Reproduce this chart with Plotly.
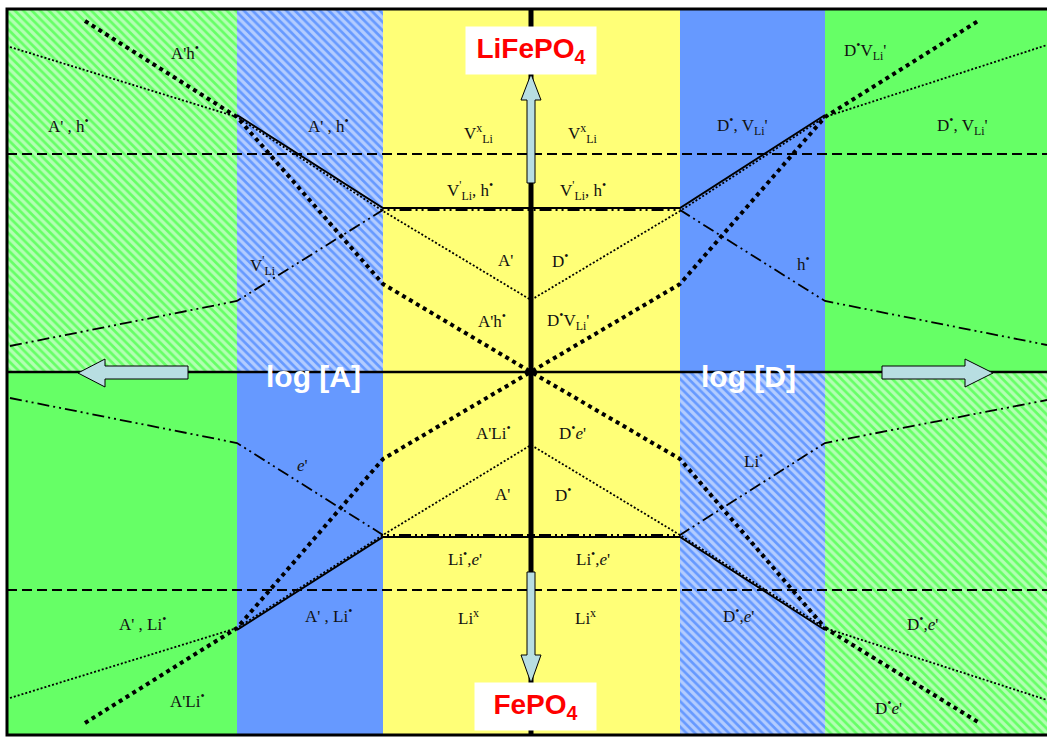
import plotly.graph_objects as go

# ---- canvas / frame ----
W, H = 1047, 737
FRAME_L, FRAME_T, FRAME_B = 7, 9, 735
AXIS_Y = 372          # horizontal log axis
AXIS_X = 531          # vertical centre line (stoichiometric composition)

# column boundaries (log[A] domain | transition | intrinsic | transition | log[D] domain)
col_edges = [7, 237, 383, 680, 825, 1060]
GREEN, BLUE, YELLOW = "#66FF66", "#6699FF", "#FFFF77"
col_colors = [GREEN, BLUE, YELLOW, BLUE, GREEN]
top_hatched = [True, True, False, False, False]
bottom_hatched = [False, False, False, True, True]

# ---- concentration lines (x = log dopant activity, y = log concentration, screen units) ----
solid_top_x = [237, 383, 680, 825]
solid_top_y = [115, 208, 208, 115]
solid_bot_x = [237, 383, 680, 825]
solid_bot_y = [630, 537, 537, 630]

thin_dot_top_x = [10, 237, 383, 531, 680, 825, 1047]
thin_dot_top_y = [47, 117, 211, 300, 211, 117, 45]
thin_dot_bot_x = [10, 237, 383, 531, 680, 825, 1047]
thin_dot_bot_y = [698, 628, 535, 445, 535, 628, 700]

thick_dot_a_x = [85, 237, 383, 531, 680, 825, 978]
thick_dot_a_y = [21, 117, 284, 372, 459, 628, 722]
thick_dot_d_x = [85, 237, 383, 531, 680, 825, 978]
thick_dot_d_y = [723, 628, 459, 372, 284, 117, 21]

ddot_top_x = [10, 237, 383, 680, 825, 1047]
ddot_top_y = [346, 301, 210, 210, 301, 345]
ddot_bot_x = [10, 237, 383, 680, 825, 1047]
ddot_bot_y = [398, 443, 535, 535, 443, 400]

dash_levels_y = [154, 590]

# ---- arrows (polygon outlines) ----
arrow_up_x = [527, 535, 535, 541, 531, 521, 527, 527]
arrow_up_y = [183, 183, 100, 100, 74, 100, 100, 183]
arrow_dn_x = [527, 535, 535, 541, 531, 521, 527, 527]
arrow_dn_y = [572, 572, 655, 655, 683, 655, 655, 572]
arrow_lt_x = [188, 188, 105, 105, 78, 105, 105, 188]
arrow_lt_y = [366, 379, 379, 387, 373, 359, 366, 366]
arrow_rt_x = [882, 882, 965, 965, 993, 965, 965, 882]
arrow_rt_y = [366, 379, 379, 387, 373, 359, 366, 366]
ARROW_FILL = "#B8DEE2"

# ---- region labels ----
B = "<sup>•</sup>"
E = "<i>e</i>'"
VLI = "V<sub>Li</sub>'"
labels = [
    ("A'h" + B, 185, 52),
    ("A' , h" + B, 68, 125),
    ("A' , h" + B, 328, 125),
    ("V<sup>'</sup><sub>Li</sub>", 263, 265),
    ("V<sup>x</sup><sub>Li</sub>", 478, 133),
    ("V<sup>x</sup><sub>Li</sub>", 582, 133),
    ("V<sup>'</sup><sub>Li</sub>, h" + B, 470, 190),
    ("V<sup>'</sup><sub>Li</sub>, h" + B, 583, 190),
    ("A'", 505, 260),
    ("D" + B, 560, 260),
    ("A'h" + B, 492, 320),
    ("D" + B + VLI, 568, 320),
    ("D" + B + VLI, 865, 50),
    ("D" + B + ", " + VLI, 742, 125),
    ("D" + B + ", " + VLI, 962, 125),
    ("h" + B, 803, 263),
    ("A'Li" + B, 493, 432),
    ("D" + B + E, 572, 432),
    ("A'", 502, 494),
    ("D" + B, 563, 494),
    ("Li" + B + "," + E, 465, 558),
    ("Li" + B + "," + E, 593, 558),
    ("Li<sup>x</sup>", 468, 617),
    ("Li<sup>x</sup>", 585, 617),
    (E, 302, 465),
    ("A' , Li" + B, 142, 623),
    ("A' , Li" + B, 328, 615),
    ("A'Li" + B, 187, 700),
    ("Li" + B, 753, 460),
    ("D" + B + "," + E, 738, 615),
    ("D" + B + "," + E, 922, 623),
    ("D" + B + E, 888, 707),
]

fig = go.Figure()


def rect(x0, x1, y0, y1, color, hatched):
    kw = dict(
        x=[x0, x1, x1, x0, x0], y=[y0, y0, y1, y1, y0],
        mode="lines", line=dict(width=0), fill="toself",
        fillcolor=color, hoverinfo="skip", showlegend=False,
    )
    if hatched:
        # white diagonal stripes over the domain colour
        kw["fillpattern"] = dict(shape="\\", fgcolor="white", bgcolor=color,
                                 size=6, solidity=0.55)
    fig.add_trace(go.Scatter(**kw))


# background domains
for i, c in enumerate(col_colors):
    x0, x1 = col_edges[i], col_edges[i + 1]
    if c == YELLOW:
        rect(x0, x1, FRAME_T, FRAME_B, c, False)
    else:
        rect(x0, x1, FRAME_T, AXIS_Y, c, top_hatched[i])
        rect(x0, x1, AXIS_Y, FRAME_B, c, bottom_hatched[i])


def line(xs, ys, width, dash="solid", color="black"):
    fig.add_trace(go.Scatter(x=xs, y=ys, mode="lines",
                             line=dict(color=color, width=width, dash=dash),
                             hoverinfo="skip", showlegend=False))


# constant-concentration dashed levels
for yv in dash_levels_y:
    line([FRAME_L, W], [yv, yv], 1.8, "10px,5px")

# axes
line([FRAME_L, W], [AXIS_Y, AXIS_Y], 2.5)
line([AXIS_X, AXIS_X], [FRAME_T, FRAME_B], 5)

# defect concentration curves
line(thin_dot_top_x, thin_dot_top_y, 1.8, "2px,2px")
line(thin_dot_bot_x, thin_dot_bot_y, 1.8, "2px,2px")
line(solid_top_x, solid_top_y, 2)
line(solid_bot_x, solid_bot_y, 2)
line(ddot_top_x, ddot_top_y, 1.8, "12px,4px,2px,4px,2px,4px")
line(ddot_bot_x, ddot_bot_y, 1.8, "12px,4px,2px,4px,2px,4px")
line(thick_dot_a_x, thick_dot_a_y, 4, "4px,4px")
line(thick_dot_d_x, thick_dot_d_y, 4, "4px,4px")

# frame
line([W + 10, FRAME_L, FRAME_L, W + 10], [FRAME_T, FRAME_T, FRAME_B, FRAME_B], 3)

# arrows
for ax_, ay_ in [(arrow_up_x, arrow_up_y), (arrow_dn_x, arrow_dn_y),
                 (arrow_lt_x, arrow_lt_y), (arrow_rt_x, arrow_rt_y)]:
    fig.add_trace(go.Scatter(x=ax_, y=ay_, mode="lines", fill="toself",
                             fillcolor=ARROW_FILL, line=dict(color="black", width=1),
                             hoverinfo="skip", showlegend=False))

annotations = []
for txt, x, y in labels:
    annotations.append(dict(x=x, y=y, xref="x", yref="y", text=txt, showarrow=False,
                            font=dict(family="Liberation Serif", size=17, color="#111111")))

# phase labels
annotations.append(dict(x=531, y=50, xref="x", yref="y", text="<b>LiFePO<sub>4</sub></b>",
                        showarrow=False, bgcolor="white", width=126, height=43, borderpad=2,
                        font=dict(family="Liberation Sans", size=28, color="#FF0000")))
annotations.append(dict(x=535.5, y=706, xref="x", yref="y", text="<b>FePO<sub>4</sub></b>",
                        showarrow=False, bgcolor="white", width=117, height=43, borderpad=2,
                        font=dict(family="Liberation Sans", size=28, color="#FF0000")))
# axis labels
annotations.append(dict(x=313, y=376, xref="x", yref="y", text="<b>log [A]</b>", showarrow=False,
                        font=dict(family="Liberation Sans", size=30, color="white")))
annotations.append(dict(x=748, y=376, xref="x", yref="y", text="<b>log [D]</b>", showarrow=False,
                        font=dict(family="Liberation Sans", size=30, color="white")))

fig.update_layout(
    width=W, height=H,
    margin=dict(l=0, r=0, t=0, b=0),
    paper_bgcolor="white", plot_bgcolor="white",
    xaxis=dict(range=[0, W], visible=False, fixedrange=True),
    yaxis=dict(range=[H, 0], visible=False, fixedrange=True),
    annotations=annotations,
    showlegend=False,
)

fig.write_html("out.html")
